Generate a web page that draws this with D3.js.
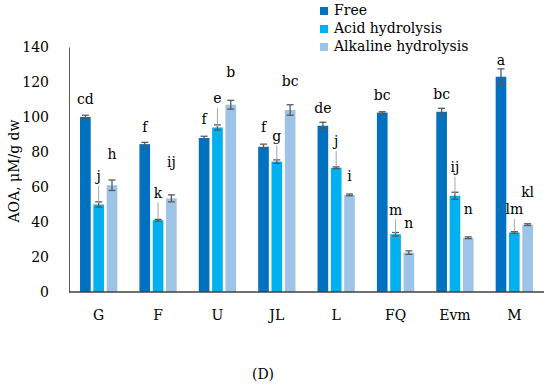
<!DOCTYPE html>
<html>
<head>
<meta charset="utf-8">
<script src="https://cdn.jsdelivr.net/npm/d3@7"></script>
<style>
  body { margin: 0; background: #fff; }
  svg text { font-family: "DejaVu Serif", serif !important; fill: #000; }
</style>
</head>
<body>
<script>
var WIDTH = 550;
var HEIGHT = 387;
var FONT_SIZE = '14px';

var categories = ['G', 'F', 'U', 'JL', 'L', 'FQ', 'Evm', 'M'];
var seriesNames = ['Free', 'Acid hydrolysis', 'Alkaline hydrolysis'];

// values per series (same order as categories)
var freeVals = [100, 84.5, 88, 83, 95, 102.5, 103, 123];
var acidVals = [50, 41, 94, 74.5, 71, 33, 55, 34];
var alkVals = [61, 53.5, 107, 104, 55.5, 22.5, 31, 38.5];

var freeErr = [1, 1, 1, 1.5, 2, 0.5, 2, 4.5];
var acidErr = [1.5, 0.5, 1.5, 1, 0.5, 1, 2, 0.5];
var alkErr = [3, 2, 2.5, 3, 0.5, 1, 0.5, 0.5];

var freeLetters = ['cd', 'f', 'f', 'f', 'de', 'bc', 'bc', 'a'];
var acidLetters = ['j', 'k', 'e', 'g', 'j', 'm', 'ij', 'lm'];
var alkLetters = ['h', 'ij', 'b', 'bc', 'i', 'n', 'n', 'kl'];

var yTicks = [0, 20, 40, 60, 80, 100, 120, 140];

// layout: how far (px) each letter sits above its bar top
var LIFT_FREE = [17, 17, 18, 19, 17, 17.5, 17, 16];
var LIFT_ACID = [27.5, 27, 28.5, 25.5, 26, 24, 28, 22.5];
var LIFT_ALK = [31, 36, 32, 28, 18, 29.5, 28, 32.5];

var COLORS = ['#0070C0', '#00B0F0', '#9DC3E6'];
var AXIS_COLOR = '#595959';

var values = [freeVals, acidVals, alkVals];
var errs = [freeErr, acidErr, alkErr];
var letters = [freeLetters, acidLetters, alkLetters];
var lifts = [LIFT_FREE, LIFT_ACID, LIFT_ALK];

var rows = [];
categories.forEach(function (c, ci) {
    seriesNames.forEach(function (s, si) {
        rows.push({
            cat: c, series: si,
            value: values[si][ci], err: errs[si][ci],
            letter: letters[si][ci], lift: lifts[si][ci]
        });
    });
});

var svg = d3.select('body').append('svg')
    .attr('width', WIDTH)
    .attr('height', HEIGHT);

var x = d3.scaleBand().domain(categories).range([69, 544]).padding(0);
var xs = d3.scaleBand().domain([0, 1, 2]).range([-18.65, 18.65]).paddingInner(0.2);
var y = d3.scaleLinear().domain([0, 140]).range([292, 47]);

function barX(d) { return x(d.cat) + x.bandwidth() / 2 + xs(d.series); }
function barMid(d) { return barX(d) + xs.bandwidth() / 2; }

// y axis
var yAxis = svg.append('g')
    .attr('transform', 'translate(69,0)')
    .call(d3.axisLeft(y).tickValues(yTicks).tickSize(0).tickPadding(20));
yAxis.attr('font-family', null).attr('font-size', null);
yAxis.select('.domain').attr('stroke', AXIS_COLOR).attr('stroke-width', 1);
yAxis.selectAll('text').style('font-size', FONT_SIZE).attr('fill', '#000');

// bars
svg.append('g').selectAll('rect')
    .data(rows)
    .enter()
    .append('rect')
    .attr('x', barX)
    .attr('y', function (d) { return y(d.value); })
    .attr('width', xs.bandwidth())
    .attr('height', function (d) { return y(0) - y(d.value); })
    .attr('fill', function (d) { return COLORS[d.series]; });

// error bars
var eb = svg.append('g').attr('stroke', AXIS_COLOR).attr('stroke-width', 1.3);
eb.selectAll('line.v').data(rows).enter().append('line')
    .attr('x1', barMid).attr('x2', barMid)
    .attr('y1', function (d) { return y(d.value - d.err); })
    .attr('y2', function (d) { return y(d.value + d.err); });
eb.selectAll('line.t').data(rows).enter().append('line')
    .attr('x1', function (d) { return barMid(d) - 3.5; })
    .attr('x2', function (d) { return barMid(d) + 3.5; })
    .attr('y1', function (d) { return y(d.value + d.err); })
    .attr('y2', function (d) { return y(d.value + d.err); });
eb.selectAll('line.b').data(rows).enter().append('line')
    .attr('x1', function (d) { return barMid(d) - 3.5; })
    .attr('x2', function (d) { return barMid(d) + 3.5; })
    .attr('y1', function (d) { return y(d.value - d.err); })
    .attr('y2', function (d) { return y(d.value - d.err); });

// leader lines for acid labels
svg.append('g').selectAll('line')
    .data(rows.filter(function (d) { return d.series == 1; }))
    .enter()
    .append('line')
    .attr('x1', barMid).attr('x2', barMid)
    .attr('y1', function (d) { return y(d.value) - d.lift + 9; })
    .attr('y2', function (d) { return y(d.value) - 1; })
    .attr('stroke', '#A6A6A6')
    .attr('stroke-width', 1);

// letters
svg.append('g').selectAll('text')
    .data(rows)
    .enter()
    .append('text')
    .attr('x', barMid)
    .attr('y', function (d) { return y(d.value) - d.lift; })
    .attr('dy', '0.32em')
    .attr('text-anchor', 'middle')
    .style('font-size', FONT_SIZE)
    .text(function (d) { return d.letter; });

// x axis line
svg.append('line')
    .attr('x1', 69).attr('x2', 544)
    .attr('y1', y(0)).attr('y2', y(0))
    .attr('stroke', '#404040')
    .attr('stroke-width', 1.6);

// x labels
svg.append('g').selectAll('text')
    .data(categories)
    .enter()
    .append('text')
    .attr('x', function (d) { return x(d) + x.bandwidth() / 2; })
    .attr('y', 316)
    .attr('dy', '0.32em')
    .attr('text-anchor', 'middle')
    .style('font-size', FONT_SIZE)
    .text(function (d) { return d; });

// y title
svg.append('text')
    .attr('transform', 'translate(15,171) rotate(-90)')
    .attr('dy', '0.32em')
    .attr('text-anchor', 'middle')
    .style('font-size', FONT_SIZE)
    .text('AOA, μM/g dw');

// legend
var legend = svg.append('g').selectAll('g')
    .data(seriesNames)
    .enter()
    .append('g')
    .attr('transform', function (d, i) { return 'translate(320,' + (11 + i * 18) + ')'; });
legend.append('rect')
    .attr('x', 0).attr('y', -4)
    .attr('width', 8).attr('height', 8)
    .attr('fill', function (d, i) { return COLORS[i]; });
legend.append('text')
    .attr('x', 14)
    .attr('dy', '0.32em')
    .style('font-size', FONT_SIZE)
    .text(function (d) { return d; });

// panel label
svg.append('text')
    .attr('x', 263).attr('y', 375)
    .attr('dy', '0.32em')
    .attr('text-anchor', 'middle')
    .style('font-size', FONT_SIZE)
    .text('(D)');
</script>
</body>
</html>
